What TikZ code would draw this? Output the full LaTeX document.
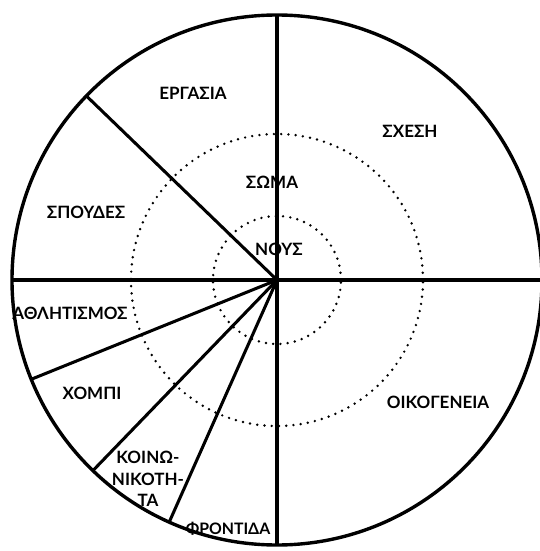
\documentclass[tikz,border=0pt]{standalone}
\usepackage{fontspec}
\setmainfont{Lato}

\begin{document}
\begin{tikzpicture}[x=0.03cm,y=0.03cm,
        rim/.style={line width=2.9pt},
        spoke/.style={line width=2.6pt},
        ring/.style={line width=2.3pt,dash pattern=on 0pt off 6.2pt,line cap=round},
        lbl/.style={inner sep=0pt,align=center,font=\bfseries\fontsize{14.5}{18.5}\selectfont}]
        \useasboundingbox (-277,-271) rectangle (263,280);
        \clip (-277,-271) rectangle (263,280);
        \coordinate (c) at (0,0);
        \draw[ring] (c) circle (64);
        \draw[ring] (c) circle (146);
        \draw[rim] (c) circle (265);
        \foreach \a in {0,90,136,180,202,226,246,270}
          \draw[spoke] (c) -- (\a:265);
        \node[lbl] (ergasia) at (-84,187) {ΕΡΓΑΣΙΑ};
        \node[lbl] (sxesi) at (133,149) {ΣΧΕΣΗ};
        \node[lbl] (soma) at (-5,98) {ΣΩΜΑ};
        \node[lbl] (spoudes) at (-191,68) {ΣΠΟΥΔΕΣ};
        \node[lbl] (nous) at (2,31) {ΝΟΥΣ};
        \node[lbl] (athlitismos) at (-207,-33) {ΑΘΛΗΤΙΣΜΟΣ};
        \node[lbl] (hobby) at (-185,-113) {ΧΟΜΠΙ};
        \node[lbl] (oikogeneia) at (161,-122) {ΟΙΚΟΓΕΝΕΙΑ};
        \node[lbl] (koinonikotita) at (-129,-199) {ΚΟΙΝΩ-\\ΝΙΚΟΤΗ-\\ΤΑ};
        \node[lbl,font=\bfseries\fontsize{13.5}{16}\selectfont] (frontida) at (-49,-249) {ΦΡΟΝΤΙΔΑ};
      \end{tikzpicture}
\end{document}
